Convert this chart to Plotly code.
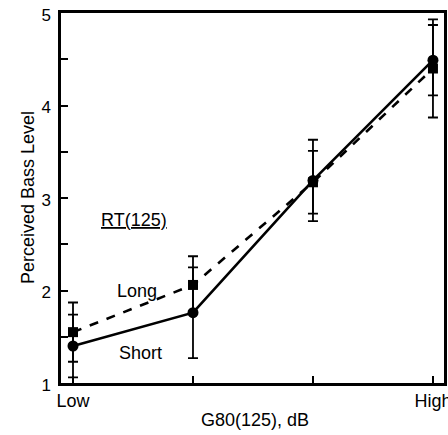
import plotly.graph_objects as go

categories = ["Low", "", "", "High"]
x_pos = [0, 1, 2, 3]
short_vals = [1.40, 1.76, 3.19, 4.49]
short_err = [0.34, 0.49, 0.44, 0.38]
long_vals = [1.55, 2.06, 3.17, 4.40]
long_err = [0.32, 0.31, 0.34, 0.53]

fig = go.Figure()
fig.add_trace(go.Scatter(
    x=x_pos, y=long_vals, mode="lines+markers", name="Long",
    line=dict(color="black", width=2.6, dash="dash"),
    marker=dict(symbol="square", size=10, color="black"),
    error_y=dict(type="data", array=long_err, visible=True, color="black", thickness=1.8, width=5),
))
fig.add_trace(go.Scatter(
    x=x_pos, y=short_vals, mode="lines+markers", name="Short",
    line=dict(color="black", width=2.6),
    marker=dict(symbol="circle", size=11, color="black"),
    error_y=dict(type="data", array=short_err, visible=True, color="black", thickness=1.8, width=5),
))

font = dict(family="Liberation Sans, Arial, sans-serif", size=18, color="black")
fig.add_annotation(x=0.51, y=2.76, text="<u>RT(125)</u>", showarrow=False, font=font)
fig.add_annotation(x=0.53, y=2.0, text="Long", showarrow=False, font=font)
fig.add_annotation(x=0.56, y=1.32, text="Short", showarrow=False, font=font)
fig.add_annotation(xref="paper", yref="paper", x=0.507, y=0, yshift=-37,
                   xanchor="center", yanchor="middle",
                   text="G80(125), dB", showarrow=False, font=font)
fig.add_annotation(xref="paper", yref="paper", x=0, y=0.5, xshift=-33, textangle=-90,
                   xanchor="center", yanchor="middle",
                   text="Perceived Bass Level", showarrow=False, font=font)

fig.update_layout(
    width=448, height=435,
    margin=dict(l=61, r=4, t=13, b=52),
    plot_bgcolor="white", paper_bgcolor="white",
    showlegend=False,
    font=font,
    xaxis=dict(
        range=[-0.1, 3.092], tickmode="array", tickvals=x_pos, ticktext=categories,
        ticks="inside", ticklen=7, tickwidth=1.5, tickcolor="black", ticklabeloverflow="allow",
        showline=True, linecolor="black", linewidth=2.5, mirror=True,
        showgrid=False, zeroline=False, automargin=False,
    ),
    yaxis=dict(
        range=[1, 5], tickmode="array", tickvals=[1, 2, 3, 4, 5],
        ticks="inside", ticklen=7, tickwidth=1.5, tickcolor="black", ticklabelstandoff=4,
        ticklabeloverflow="allow", ticklabelshift=2, tickfont=dict(size=17),
        minor=dict(tickmode="array", tickvals=[1.5, 2.5, 3.5, 4.5], ticks="inside", ticklen=7, tickwidth=1.5, tickcolor="black"),
        showline=True, linecolor="black", linewidth=2.5, mirror=True,
        showgrid=False, zeroline=False, automargin=False,
    ),
)

fig.write_html("out.html", config={"displayModeBar": False},
               post_script="document.body.style.margin='0';document.body.style.overflow='hidden';")
